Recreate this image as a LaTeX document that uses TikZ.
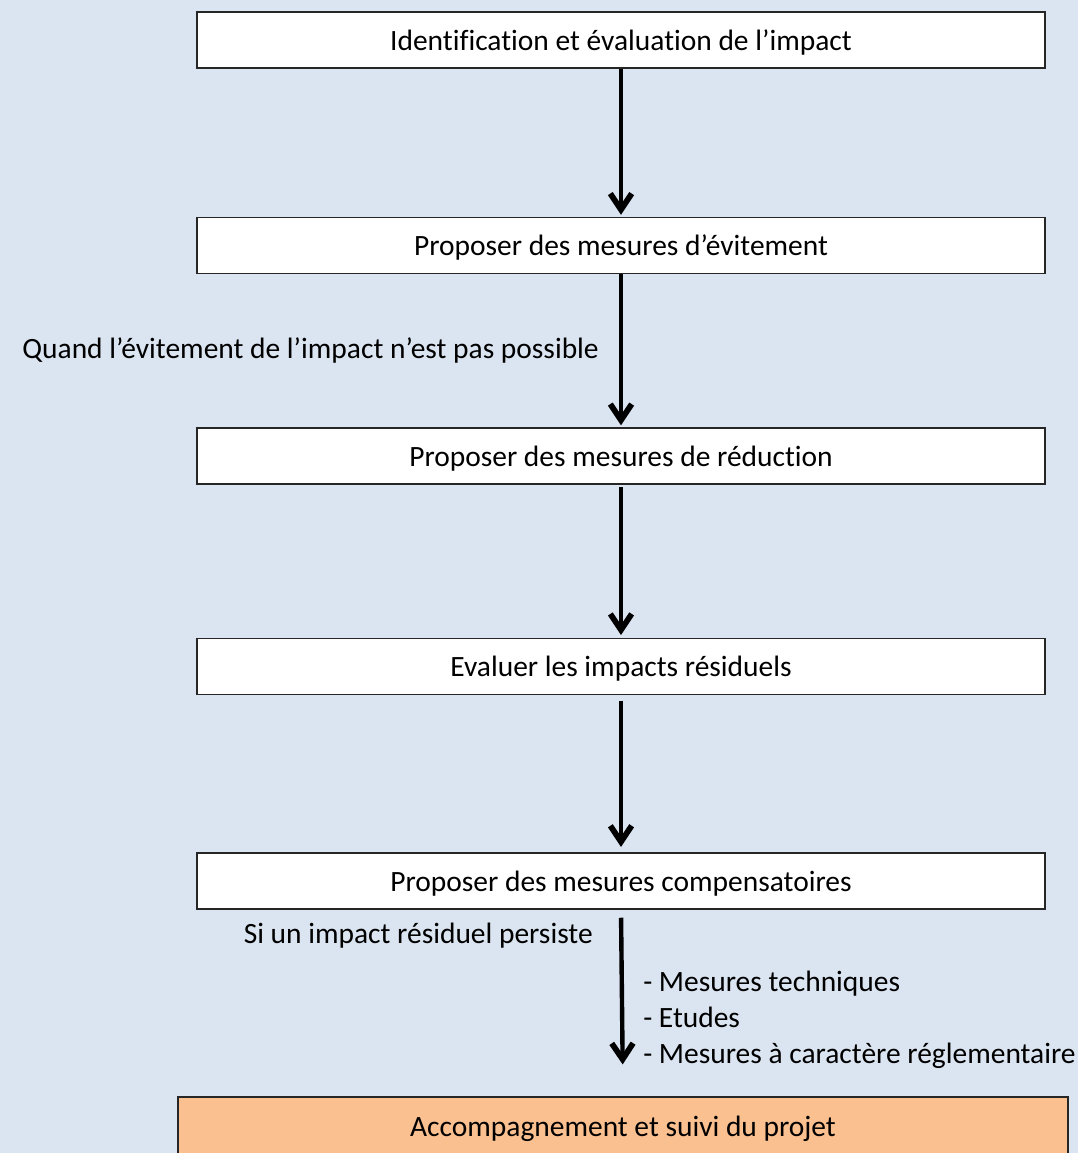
\documentclass[tikz,border=0pt]{standalone}
\usepackage{fontspec}
\setmainfont[Ligatures=NoCommon]{Carlito}
\usetikzlibrary{arrows.meta}
\definecolor{pagebg}{HTML}{DBE5F1}
\definecolor{finalfill}{HTML}{FAC090}
\definecolor{boxline}{HTML}{262626}
\tikzset{
  stepbox/.style={draw=boxline, line width=1.1pt, fill=white, rectangle,
    minimum width=636pt, minimum height=42pt, inner sep=0pt,
    text height=17pt, text depth=2pt,
    font=\fontsize{22.1}{25}\selectfont},
  finalbox/.style={stepbox, fill=finalfill, minimum width=667.5pt, minimum height=44pt},
  flow/.style={line width=3.3pt, -{Straight Barb[length=12pt, width=16pt, line width=4.3pt]}},
  note/.style={font=\fontsize{22.1}{25}\selectfont, inner sep=0pt}
}
\begin{document}
\begin{tikzpicture}[x=0.75pt, y=-0.75pt]
  \fill[pagebg] (0,0) rectangle (1078,1153);
  \useasboundingbox (0,0) rectangle (1078,1153);

  \node[stepbox] (b1) at (621,40) {Identification et évaluation de l’impact};
  \node[stepbox] (b2) at (621,245.5) {Proposer des mesures d’évitement};
  \node[stepbox] (b3) at (621,456) {Proposer des mesures de réduction};
  \node[stepbox] (b4) at (621,666.5) {Evaluer les impacts résiduels};
  \node[stepbox] (b5) at (621,881) {Proposer des mesures compensatoires};
  \node[finalbox] (b6) at (623,1126.5) {Accompagnement et suivi du projet};

  \draw[flow, shorten >=1.5pt] (b1.south) -- (b2.north);
  \draw[flow, shorten >=1.5pt] (b2.south) -- (b3.north);
  \draw[flow, shorten <=2pt, shorten >=2pt] (b3.south) -- (b4.north);
  \draw[flow, shorten <=4pt, shorten >=4pt] (b4.south) -- (b5.north);
  \draw[flow, shorten <=6pt, shorten >=24pt] (b5.south) -- (b6.north);

  \node[note, anchor=base east] (n1) at (599,358) {Quand l’évitement de l’impact n’est pas possible};
  \node[note, anchor=base east] (n2) at (593,943) {Si un impact résiduel persiste};
  \node[note, anchor=base west] (n3) at (643,991) {- Mesures techniques};
  \node[note, anchor=base west] (n4) at (643,1027.5) {- Etudes};
  \node[note, anchor=base west] (n5) at (643,1063.5) {- Mesures à caractère réglementaire};
\end{tikzpicture}
\end{document}
